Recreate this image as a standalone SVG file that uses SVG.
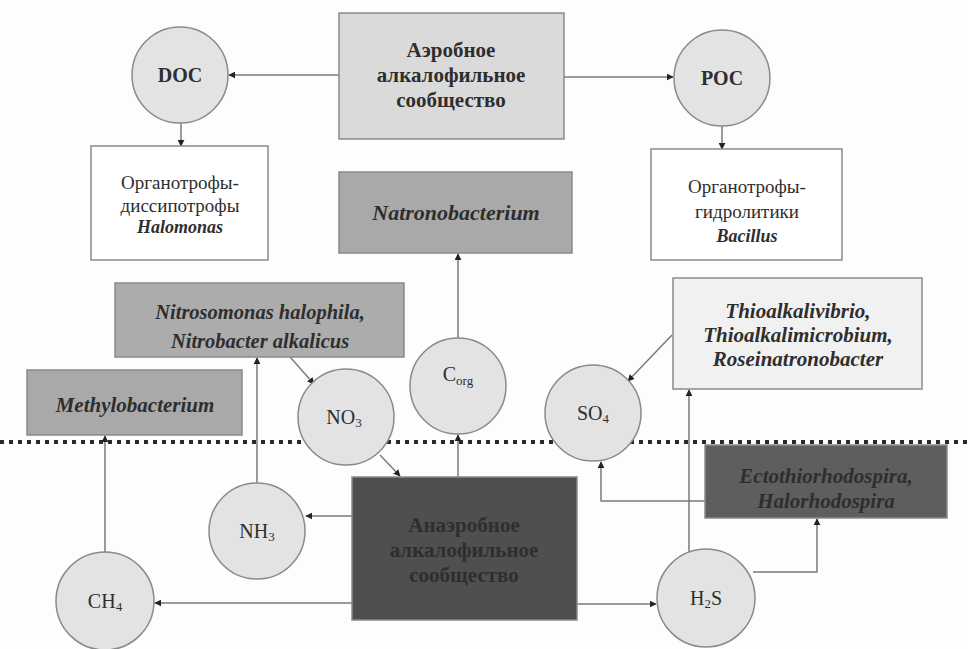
<svg xmlns="http://www.w3.org/2000/svg" width="968" height="649" viewBox="0 0 968 649">
  <defs>
    <marker id="arrow" viewBox="0 0 10 10" refX="9" refY="5" markerWidth="7" markerHeight="7" markerUnits="userSpaceOnUse" orient="auto">
      <path d="M0,0 L10,5 L0,10 z" fill="#222"/>
    </marker>
    <style>
      .bg { fill: #fdfdfd; }
      .box { stroke: #8a8a8a; stroke-width: 1.5; }
      .pool { fill: #e3e3e3; stroke: #8a8a8a; stroke-width: 1.5; }
      .link { fill: none; stroke: #7a7a7a; stroke-width: 1.5; marker-end: url(#arrow); }
      .t { font-family: "Liberation Serif", "Times New Roman", serif; text-anchor: middle; fill: #2e2e2e; }
      .b { font-weight: bold; }
      .bi { font-weight: bold; font-style: italic; }
      .border { fill: none; stroke: #2a2a2a; stroke-width: 4; stroke-dasharray: 4 5; }
    </style>
  </defs>

  <rect class="bg" x="0" y="0" width="968" height="649"/>

  <!-- boundary between the aerobic and anaerobic zones -->
  <line class="border" x1="0" y1="442" x2="968" y2="442"/>

  <!-- connectors -->
  <g id="connectors">
    <path class="link" d="M339,75 L229,75"/>
    <path class="link" d="M564,77 L673,77"/>
    <path class="link" d="M181,123 L181,146"/>
    <path class="link" d="M722,126 L722,149"/>
    <path class="link" d="M458,338 L458,254"/>
    <path class="link" d="M458,477 L458,435"/>
    <path class="link" d="M257,483 L257,358"/>
    <path class="link" d="M290,357 L314,384"/>
    <path class="link" d="M380,455 L400,476"/>
    <path class="link" d="M352,516 L306,516"/>
    <path class="link" d="M352,603 L155,603"/>
    <path class="link" d="M105,552 L105,436"/>
    <path class="link" d="M577,604 L656,604"/>
    <path class="link" d="M689,552 L689,390"/>
    <path class="link" d="M753,572 L817,572 L817,519"/>
    <path class="link" d="M705,501 L601,501 L601,462"/>
    <path class="link" d="M672,335 L628,381"/>
  </g>

  <g font-family="'Liberation Serif', 'Times New Roman', serif">
  <!-- aerobic community -->
  <g id="aerobic">
    <rect class="box" x="339" y="13" width="225" height="126" fill="#dadada"/>
    <text class="t b" x="451" y="57" font-size="21">Аэробное</text>
    <text class="t b" x="451" y="82" font-size="21">алкалофильное</text>
    <text class="t b" x="451" y="107" font-size="21">сообщество</text>
  </g>

  <g id="doc">
    <circle class="pool" cx="180" cy="75" r="48"/>
    <text class="t b" x="180" y="82" font-size="20">DOC</text>
  </g>

  <g id="poc">
    <circle class="pool" cx="722" cy="78" r="48"/>
    <text class="t b" x="722" y="85" font-size="20">POC</text>
  </g>

  <g id="halomonas">
    <rect class="box" x="91" y="146" width="177" height="114" fill="#ffffff"/>
    <text class="t" x="180" y="189" font-size="19">Органотрофы-</text>
    <text class="t" x="180" y="212" font-size="19">диссипотрофы</text>
    <text class="t bi" x="180" y="233" font-size="18">Halomonas</text>
  </g>

  <g id="bacillus">
    <rect class="box" x="651" y="149" width="191" height="111" fill="#ffffff"/>
    <text class="t" x="747" y="193" font-size="19">Органотрофы-</text>
    <text class="t" x="747" y="218" font-size="19">гидролитики</text>
    <text class="t bi" x="747" y="242" font-size="18">Bacillus</text>
  </g>

  <g id="natronobacterium">
    <rect class="box" x="339" y="172" width="233" height="81" fill="#a9a9a9"/>
    <text class="t bi" x="456" y="220" font-size="22">Natronobacterium</text>
  </g>

  <g id="nitrifiers">
    <rect class="box" x="115" y="283" width="289" height="74" fill="#acacac"/>
    <text class="t bi" x="260" y="319" font-size="20.5">Nitrosomonas halophila,</text>
    <text class="t bi" x="260" y="348" font-size="20.5">Nitrobacter alkalicus</text>
  </g>

  <g id="methylobacterium">
    <rect class="box" x="27" y="370" width="215" height="65" fill="#a9a9a9"/>
    <text class="t bi" x="135" y="412" font-size="21">Methylobacterium</text>
  </g>

  <g id="thiobacteria">
    <rect class="box" x="673" y="278" width="249" height="111" fill="#f1f1f1"/>
    <text class="t bi" x="798" y="318" font-size="21">Thioalkalivibrio,</text>
    <text class="t bi" x="798" y="342" font-size="21">Thioalkalimicrobium,</text>
    <text class="t bi" x="798" y="366" font-size="21">Roseinatronobacter</text>
  </g>

  <g id="corg">
    <circle class="pool" cx="458" cy="386" r="48"/>
    <text class="t" x="458" y="381" font-size="20">C<tspan font-size="13" dy="4">org</tspan></text>
  </g>

  <g id="no3">
    <circle class="pool" cx="346" cy="417" r="48"/>
    <text class="t" x="344" y="424" font-size="20">NO<tspan font-size="13" dy="3">3</tspan></text>
  </g>

  <g id="so4">
    <circle class="pool" cx="593" cy="413" r="48"/>
    <text class="t" x="593" y="420" font-size="20">SO<tspan font-size="13" dy="3">4</tspan></text>
  </g>

  <g id="ectothiorhodospira">
    <rect class="box" x="705" y="445" width="242" height="73" fill="#5e5e5e"/>
    <text class="t bi" x="826" y="483" font-size="21" fill="#262626">Ectothiorhodospira,</text>
    <text class="t bi" x="826" y="508" font-size="21" fill="#262626">Halorhodospira</text>
  </g>

  <g id="nh3">
    <circle class="pool" cx="257" cy="531" r="48"/>
    <text class="t" x="257" y="538" font-size="20">NH<tspan font-size="13" dy="3">3</tspan></text>
  </g>

  <g id="anaerobic">
    <rect class="box" x="352" y="477" width="225" height="143" fill="#4f4f4f"/>
    <text class="t b" x="464" y="532" font-size="21" fill="#ececec">Анаэробное</text>
    <text class="t b" x="464" y="557" font-size="21" fill="#ececec">алкалофильное</text>
    <text class="t b" x="464" y="582" font-size="21" fill="#ececec">сообщество</text>
  </g>

  <g id="ch4">
    <circle class="pool" cx="105" cy="601" r="49"/>
    <text class="t" x="105" y="608" font-size="20">CH<tspan font-size="13" dy="3">4</tspan></text>
  </g>

  <g id="h2s">
    <circle class="pool" cx="706" cy="598" r="49"/>
    <text class="t" x="706" y="605" font-size="20">H<tspan font-size="13" dy="3">2</tspan><tspan dy="-3">S</tspan></text>
  </g>
  </g>
</svg>
